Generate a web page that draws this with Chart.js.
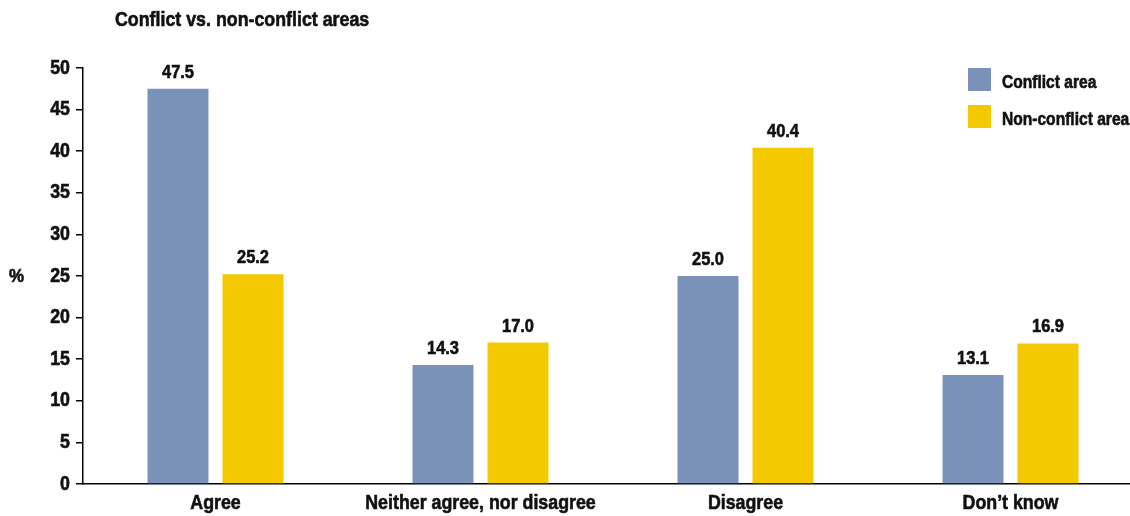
<!DOCTYPE html>
<html><head><meta charset="utf-8">
<script src="https://cdn.jsdelivr.net/npm/chart.js@4"></script>
<style>html,body{margin:0;padding:0;overflow:hidden;background:#fff;width:1130px;height:516px}canvas{display:block}</style>
</head><body>
<canvas id="c" width="1150" height="516" style="width:1150px;height:516px"></canvas>
<script>
const categories = ["Agree", "Neither agree, nor disagree", "Disagree", "Don\u2019t know"];
const conflictValues = [47.5, 14.3, 25.0, 13.1];
const nonConflictValues = [25.2, 17.0, 40.4, 16.9];
const seriesNames = ["Conflict area", "Non-conflict area"];
const yTicks = [0, 5, 10, 15, 20, 25, 30, 35, 40, 45, 50];
const chartTitle = "Conflict vs. non-conflict areas";
const yAxisLabel = "%";

const FONT = '"Liberation Sans",Arial,Helvetica,sans-serif';
const BLUE = '#7a92ba', YELLOW = '#f4c900';
const SX = 0.89;

function txt(ctx, s, x, y, align, size) {
  ctx.save();
  ctx.font = 'bold ' + size + 'px ' + FONT;
  ctx.textBaseline = 'middle';
  const w = ctx.measureText(s).width * SX;
  let x0 = x;
  if (align === 'center') x0 = x - w / 2;
  else if (align === 'right') x0 = x - w;
  ctx.translate(x0, y);
  ctx.scale(SX, 1);
  ctx.textAlign = 'left';
  ctx.fillStyle = '#111';
  ctx.strokeStyle = '#111';
  ctx.lineWidth = 0.6;
  ctx.fillText(s, 0, 0);
  ctx.strokeText(s, 0, 0);
  ctx.restore();
}

const extras = {
  id: 'extras',
  afterDraw(chart) {
    const ctx = chart.ctx;
    const xs = chart.scales.x, ys = chart.scales.y;
    chart.data.datasets.forEach((ds, i) => {
      chart.getDatasetMeta(i).data.forEach((bar, j) => {
        txt(ctx, ds.data[j].toFixed(1), bar.x, bar.y - 16, 'center', 18.5);
      });
    });
    yTicks.forEach(v => txt(ctx, String(v), 70, ys.getPixelForValue(v), 'right', 20));
    categories.forEach((c, i) => txt(ctx, c, xs.getPixelForValue(i), 503, 'center', 20));
    txt(ctx, chartTitle, 115, 20, 'left', 20);
    txt(ctx, yAxisLabel, 9, 277, 'left', 19);
    chart.data.datasets.forEach((ds, i) => {
      const y = 68 + i * 37;
      ctx.fillStyle = ds.backgroundColor;
      ctx.fillRect(968, y, 23, 23);
      txt(ctx, ds.label, 1002, y + 15, 'left', 17.5);
    });
  }
};

new Chart(document.getElementById('c'), {
  type: 'bar',
  data: {
    labels: categories,
    datasets: [
      { label: seriesNames[0], data: conflictValues, backgroundColor: BLUE },
      { label: seriesNames[1], data: nonConflictValues, backgroundColor: YELLOW }
    ]
  },
  options: {
    responsive: false,
    animation: false,
    devicePixelRatio: 1,
    layout: { padding: { top: 68, right: 7, left: 0, bottom: 0 } },
    datasets: { bar: { categoryPercentage: 0.566, barPercentage: 0.813 } },
    plugins: { legend: { display: false }, tooltip: { enabled: false }, title: { display: false } },
    scales: {
      x: {
        grid: { drawOnChartArea: false, drawTicks: false },
        border: { display: true, color: '#000', width: 1.5 },
        ticks: { display: false },
        afterFit(s) { s.height = 32; }
      },
      y: {
        min: 0, max: 50,
        grid: { drawOnChartArea: false, drawTicks: true, tickLength: 7, color: '#000', lineWidth: 1.5 },
        border: { display: true, color: '#000', width: 1.5 },
        ticks: { stepSize: 5, display: false },
        afterFit(s) { s.width = 83; }
      }
    }
  },
  plugins: [extras]
});
</script>
</body></html>
